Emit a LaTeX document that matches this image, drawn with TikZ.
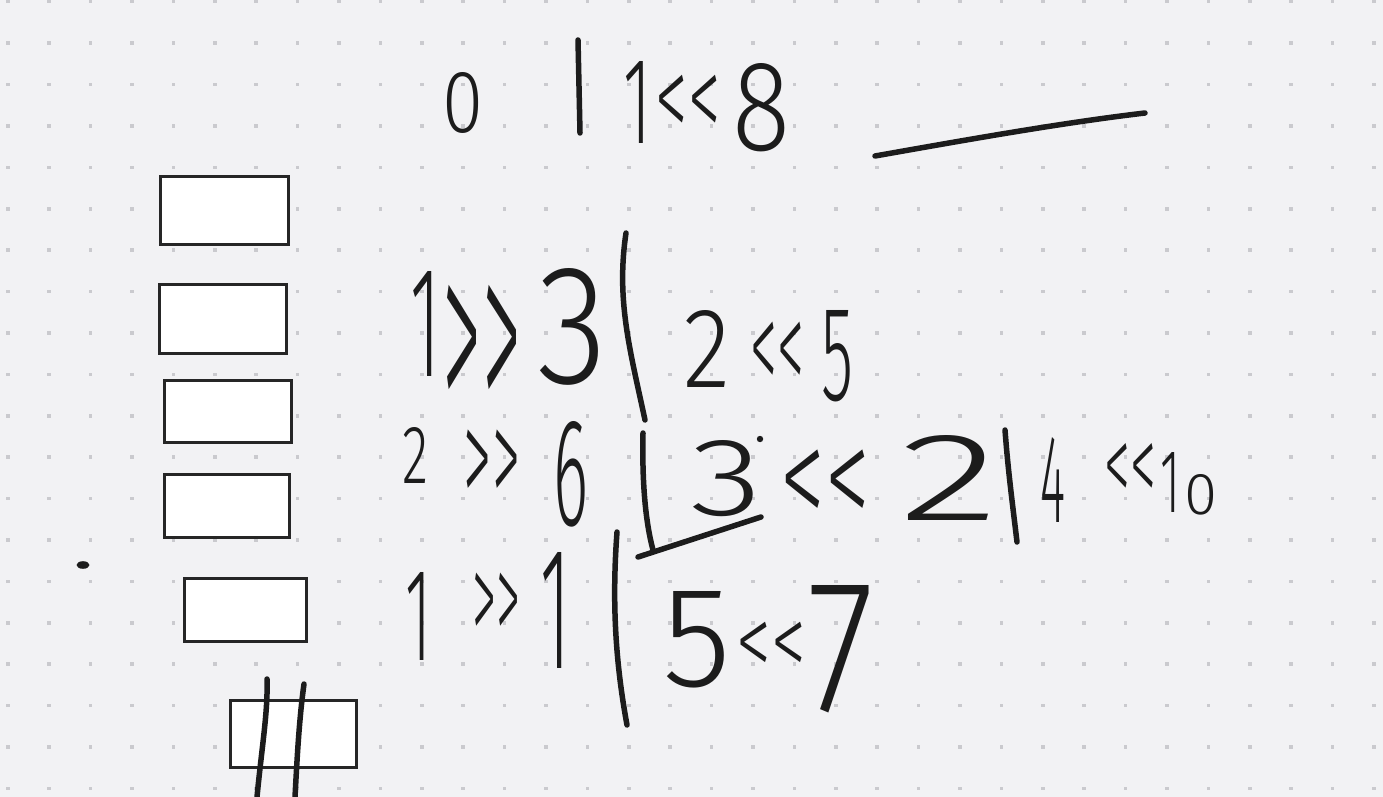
\documentclass[tikz,border=0pt]{standalone}
\usepackage{fontspec}
\newfontfamily\hand{Fira Sans Light}
\definecolor{bg}{HTML}{F2F2F4}
\definecolor{dotc}{HTML}{CACACE}
\definecolor{ink}{HTML}{1C1C1C}
\definecolor{boxc}{HTML}{262626}
\newcommand\hwtok[6]{\node[tok] (#1) at (#2,#3) {\resizebox{#4}{#5}{\hand #6}};}
\newcommand\hwop[6]{\node[tok] (#1) at (#2,#3) {\resizebox{#4}{#5}{\hand\raisebox{-0.3\height}[0.7\height][0pt]{#6}}};}
\begin{document}
\begin{tikzpicture}[x=1pt,y=-1pt,
  tok/.style={inner sep=0pt,outer sep=0pt,anchor=south,text=ink},
  pen/.style={draw=ink,line width=5.5pt,line cap=round,line join=round},
  slot/.style={draw=boxc,fill=white,line width=3pt,inner sep=0pt,rectangle}]
\useasboundingbox (0,0) rectangle (1383,797);
\fill[bg] (0,0) rectangle (1383,797);
\foreach \i in {0,...,33}{\foreach \j in {0,...,19}{
  \fill[dotc] ({7.7+41.4*\i-1.8},{1.7+41.4*\j-1.8}) rectangle +(3.6,3.6);}}
% boxes
\node[slot,minimum width=128pt,minimum height=68pt] (b1) at (224.5,210.5) {};
\node[slot,minimum width=127pt,minimum height=69pt] (b2) at (223,319) {};
\node[slot,minimum width=127pt,minimum height=62pt] (b3) at (228,411.5) {};
\node[slot,minimum width=125pt,minimum height=63pt] (b4) at (227,506) {};
\node[slot,minimum width=122pt,minimum height=63pt] (b5) at (245.5,610) {};
\node[slot,minimum width=126pt,minimum height=67pt] (b6) at (293.5,734) {};
% slashes through last box
\draw[pen] (267,679) .. controls (268,712) and (262,745) .. (257,797);
\draw[pen] (304,684) .. controls (299,720) and (297,760) .. (295,797);
% dot
\fill[ink] (83,565) ellipse (6.5 and 3.8);
% row 1
\hwtok{r1a}{463}{133}{41pt}{60pt}{0}
\hwtok{r1b}{637}{143}{28pt}{82pt}{1}
\hwop{r1c}{688}{120}{65pt}{45pt}{<<}
\hwtok{r1d}{761}{152}{58pt}{87pt}{8}
\draw[pen] (578,40) -- (580,133);
\draw[pen] (875,156) .. controls (960,141) and (1060,123) .. (1145,113);
% row 2
\hwtok{r2a}{425}{376}{30pt}{105pt}{1}
\hwop{r2b}{482}{383}{78pt}{98pt}{>>}
\hwtok{r2c}{572}{385}{70pt}{115pt}{3}
\hwtok{r2d}{707}{387}{47pt}{77pt}{2}
\hwop{r2e}{777}{372}{54pt}{50pt}{<<}
\hwtok{r2f}{837}{402}{32pt}{90pt}{5}
\draw[pen] (626,233) .. controls (616,300) and (630,350) .. (645,420);
% row 3
\hwtok{r3a}{415}{483}{26pt}{56pt}{2}
\hwop{r3b}{492}{485}{56pt}{55pt}{>>}
\hwtok{r3c}{571}{527}{35pt}{104pt}{6}
\hwtok{r3d}{726}{517}{72pt}{75pt}{3}
\hwop{r3e}{825}{505}{90pt}{55pt}{<<}
\hwtok{r3f}{949}{520}{100pt}{85pt}{2}
\hwtok{r3g}{1053}{522}{25pt}{85pt}{4}
\hwop{r3h}{1130}{485}{52pt}{42pt}{<<}
\hwtok{r3i}{1170}{512}{20pt}{60pt}{1}
\hwtok{r3j}{1201}{515}{33pt}{40pt}{0}
\fill[ink] (760,439) circle (3.2);
\draw[pen] (643,433) .. controls (642,480) and (645,520) .. (653,550);
\draw[pen] (761,517) -- (638,557);
\draw[pen] (1005,430) .. controls (1008,470) and (1012,500) .. (1017,542);
% row 4
\hwtok{r4a}{418}{660}{26pt}{88pt}{1}
\hwop{r4b}{496}{623}{48pt}{50pt}{>>}
\hwtok{r4c}{555}{668}{30pt}{116pt}{1}
\hwtok{r4d}{697}{688}{69pt}{95pt}{5}
\hwop{r4e}{771}{660}{70pt}{38pt}{<<}
\hwtok{r4f}{841}{713}{67pt}{126pt}{7}
\draw[pen] (617,532) .. controls (612,600) and (615,660) .. (627,725);
\end{tikzpicture}
\end{document}
